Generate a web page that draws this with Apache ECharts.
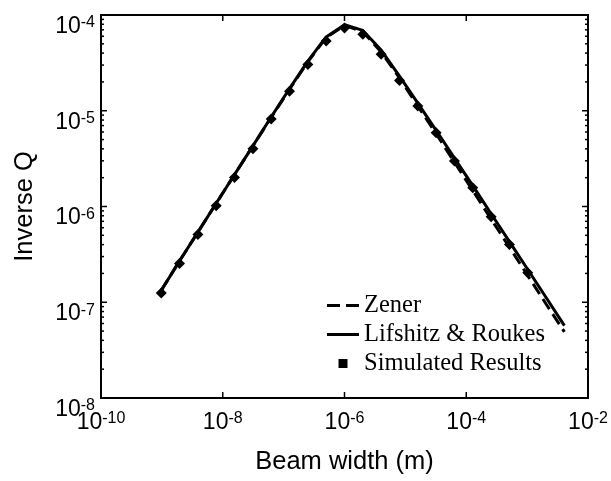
<!DOCTYPE html>
<html><head><meta charset="utf-8">
<script src="https://cdn.jsdelivr.net/npm/echarts@6/dist/echarts.min.js"></script>
<style>html,body{margin:0;padding:0;background:#fff}#c{width:611px;height:481px}</style>
</head><body><div id="c"></div>
<script>
// Beam widths (m) of simulated points and theory curves
const beamWidthsSim = [9.77e-10, 1.95e-9, 3.91e-9, 7.81e-9, 1.56e-8, 3.13e-8, 6.25e-8, 1.25e-7, 2.5e-7, 5e-7, 1e-6, 2e-6, 4e-6, 8e-6, 1.6e-5, 3.2e-5, 6.4e-5, 1.28e-4, 2.56e-4, 5.12e-4, 1.024e-3];
const simulated = [1.25e-7, 2.54e-7, 5.1e-7, 1.02e-6, 2.01e-6, 4.0e-6, 8.2e-6, 1.6e-5, 3.05e-5, 5.35e-5, 7.3e-5, 6.3e-5, 3.9e-5, 2.07e-5, 1.12e-5, 5.9e-6, 2.98e-6, 1.57e-6, 7.8e-7, 4.0e-7, 2.03e-7];
const beamWidthsLine = [9.77e-10, 1.95e-9, 3.91e-9, 7.81e-9, 1.56e-8, 3.13e-8, 6.25e-8, 1.25e-7, 2.5e-7, 5e-7, 1e-6, 2e-6, 4e-6, 8e-6, 1.6e-5, 3.2e-5, 6.4e-5, 1.28e-4, 2.56e-4, 5.12e-4, 1.024e-3, 2.048e-3, 4.096e-3];
const zener = [1.33e-7, 2.7e-7, 5.4e-7, 1.08e-6, 2.15e-6, 4.3e-6, 8.5e-6, 1.68e-5, 3.25e-5, 5.8e-5, 7.8e-5, 6.7e-5, 4.1e-5, 2.2e-5, 1.12e-5, 5.75e-6, 2.9e-6, 1.47e-6, 7.4e-7, 3.75e-7, 1.9e-7, 9.6e-8, 4.9e-8];
const lifshitz = [1.33e-7, 2.7e-7, 5.4e-7, 1.08e-6, 2.15e-6, 4.3e-6, 8.6e-6, 1.7e-5, 3.3e-5, 5.9e-5, 7.9e-5, 6.9e-5, 4.3e-5, 2.3e-5, 1.2e-5, 6.25e-6, 3.2e-6, 1.65e-6, 8.4e-7, 4.3e-7, 2.2e-7, 1.12e-7, 5.7e-8];
const seriesNames = ['Zener', 'Lifshitz & Roukes', 'Simulated Results'];
const xTickValues = [1e-10, 1e-8, 1e-6, 1e-4, 1e-2];
const yTickValues = [1e-8, 1e-7, 1e-6, 1e-5, 1e-4];
const yMinorMantissas = [2, 3, 4, 5, 6, 7, 8, 9];
const yMinorDecades = [1e-8, 1e-7, 1e-6, 1e-5];

const X_MIN = 1e-10, X_MAX = 1e-2, Y_MIN = 1e-8, Y_MAX = 1e-4;
const yMinorTicks = [];
yMinorDecades.forEach(d => yMinorMantissas.forEach(m => yMinorTicks.push(m * d)));

function pairs(xs, ys) { return xs.map((x, i) => [x, ys[i]]); }

function makeRich(supLH) {
  return {
    b: { fontFamily: 'Liberation Sans', fontSize: 23, lineHeight: 23, verticalAlign: 'bottom', color: '#000' },
    s: { fontFamily: 'Liberation Sans', fontSize: 16, lineHeight: supLH, verticalAlign: 'top', color: '#000' }
  };
}
function expLabel(v, evenOnly) {
  const e = Math.round(Math.log10(v));
  if (evenOnly && Math.abs(e) % 2 === 1) return '';
  return '{b|10}{s|' + e + '}';
}

const chart = echarts.init(document.getElementById('c'), null, { renderer: 'canvas' });
chart.setOption({
  animation: false,
  backgroundColor: '#fff',
  grid: { left: 101, top: 15, right: 23, bottom: 83, show: true, borderColor: '#000', borderWidth: 2, backgroundColor: 'transparent' },
  legend: {
    orient: 'vertical', left: 322, top: 288, itemWidth: 32, itemHeight: 9, itemGap: 4,
    symbolKeepAspect: true,
    textStyle: { fontFamily: 'Liberation Serif', fontSize: 24.5, color: '#000', lineHeight: 25 },
    data: [
      { name: seriesNames[0], icon: 'path://M0,0h13v3h-13z M19,0h13v3h-13z', itemStyle: { color: '#000', opacity: 1 } },
      { name: seriesNames[1], icon: 'path://M0,0h32v3h-32z', itemStyle: { color: '#000', opacity: 1 } },
      { name: seriesNames[2], icon: 'path://M0,0h9v9h-9z', itemStyle: { color: '#000', opacity: 1 } }
    ]
  },
  xAxis: {
    type: 'log', logBase: 10, min: X_MIN, max: X_MAX,
    name: 'Beam width (m)', nameLocation: 'middle', nameGap: 51,
    nameTextStyle: { fontFamily: 'Liberation Sans', fontSize: 25.5, color: '#000' },
    axisLine: { show: true, lineStyle: { color: '#000', width: 2 } },
    axisTick: { show: false },
    splitLine: { show: false },
    axisLabel: { margin: 13, showMinLabel: true, showMaxLabel: true, formatter: v => expLabel(v, true), rich: makeRich(1) }
  },
  yAxis: {
    type: 'log', logBase: 10, min: Y_MIN, max: Y_MAX,
    name: 'Inverse Q', nameLocation: 'middle', nameGap: 63,
    nameTextStyle: { fontFamily: 'Liberation Sans', fontSize: 25.5, color: '#000' },
    axisLine: { show: true, lineStyle: { color: '#000', width: 2 } },
    axisTick: { show: false },
    splitLine: { show: false },
    axisLabel: { margin: 6, verticalAlign: 'top', showMinLabel: true, showMaxLabel: true, formatter: v => expLabel(v, false), rich: makeRich(5) }
  },
  series: [
    {
      name: seriesNames[0], type: 'line', data: pairs(beamWidthsLine, zener), symbol: 'none',
      lineStyle: { color: '#000', width: 3, type: [12, 6] }, itemStyle: { color: '#000' }, z: 3
    },
    {
      name: seriesNames[1], type: 'line', data: pairs(beamWidthsLine, lifshitz), symbol: 'none',
      lineStyle: { color: '#000', width: 3, type: 'solid' }, itemStyle: { color: '#000' }, z: 3
    },
    {
      name: seriesNames[2], type: 'scatter', data: pairs(beamWidthsSim, simulated), symbol: 'diamond', symbolSize: 11,
      itemStyle: { color: '#000', opacity: 1 }, z: 2
    },
    {
      name: 'ticks', type: 'custom', silent: true, z: 5, data: [[1e-6, 1e-6]],
      renderItem: function (params, api) {
        const cs = params.coordSys;
        const left = cs.x, right = cs.x + cs.width, top = cs.y, bottom = cs.y + cs.height;
        const children = [];
        const st = { stroke: '#000', lineWidth: 1.5 };
        xTickValues.forEach(v => {
          const p = api.coord([v, Y_MIN]);
          children.push({ type: 'line', shape: { x1: p[0], y1: bottom, x2: p[0], y2: bottom - 6 }, style: st });
          children.push({ type: 'line', shape: { x1: p[0], y1: top, x2: p[0], y2: top + 6 }, style: st });
        });
        yTickValues.forEach(v => {
          const p = api.coord([X_MIN, v]);
          children.push({ type: 'line', shape: { x1: left, y1: p[1], x2: left + 6, y2: p[1] }, style: st });
          children.push({ type: 'line', shape: { x1: right, y1: p[1], x2: right - 6, y2: p[1] }, style: st });
        });
        yMinorTicks.forEach(v => {
          const p = api.coord([X_MIN, v]);
          children.push({ type: 'line', shape: { x1: left, y1: p[1], x2: left + 3, y2: p[1] }, style: st });
          children.push({ type: 'line', shape: { x1: right, y1: p[1], x2: right - 3, y2: p[1] }, style: st });
        });
        return { type: 'group', children: children };
      }
    }
  ]
});
</script>
</body></html>
